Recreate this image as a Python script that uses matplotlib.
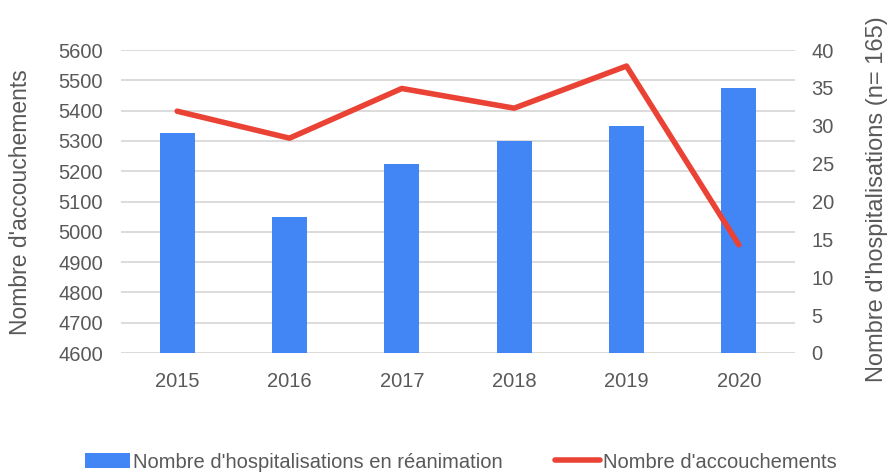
import matplotlib.pyplot as plt
import numpy as np

# data
years = ['2015', '2016', '2017', '2018', '2019', '2020']
hospitalisations = [29, 18, 25, 28, 30, 35]          # right axis (n = 165)
accouchements = [5398, 5309, 5473, 5408, 5547, 4957]  # left axis

BLUE = '#4285F4'
RED = '#EA4335'
TXT = '#595959'
GRID = '#d9d9d9'

plt.rcParams['font.family'] = ['Liberation Sans', 'DejaVu Sans']

fig = plt.figure(figsize=(8.9, 4.74), dpi=100)
ax = fig.add_axes([121/890, 1-353/474, (795-121)/890, (353-50)/474])
x = np.arange(len(years))

# left axis: grid + ticks
ax.set_ylim(4600, 5600)
ax.set_yticks(np.arange(4600, 5601, 100))
ax.set_xlim(-0.5, len(years)-0.5)
ax.grid(axis='y', color=GRID, linewidth=1.3)
ax.set_axisbelow(True)
ax.set_xticks(x)
ax.set_xticklabels(years)
ax.tick_params(axis='both', length=0, colors=TXT, labelsize=14.5)
ax.tick_params(axis='x', pad=14)
ax.tick_params(axis='y', pad=13)
for s in ax.spines.values():
    s.set_visible(False)

# right axis: bars
ax2 = ax.twinx()
ax2.set_ylim(0, 40)
ax2.set_yticks(np.arange(0, 41, 5))
bars = ax2.bar(x, hospitalisations, width=0.31, color=BLUE,
               label="Nombre d'hospitalisations en réanimation")
ax2.tick_params(axis='y', length=0, colors=TXT, labelsize=14.5, pad=12)
for s in ax2.spines.values():
    s.set_visible(False)

# line on top, same scale as left axis
ax3 = ax.twinx()
ax3.set_ylim(4600, 5600)
ax3.set_yticks([])
line, = ax3.plot(x, accouchements, color=RED, linewidth=4,
                 solid_capstyle='round', label="Nombre d'accouchements")
for s in ax3.spines.values():
    s.set_visible(False)

# axis titles
fig.text(21/890, 1-202/474, "Nombre d'accouchements", rotation=90,
         ha='center', va='center', color=TXT, fontsize=16.5)
fig.text(877/890, 1-199/474, "Nombre d'hospitalisations (n= 165)", rotation=90,
         ha='center', va='center', color=TXT, fontsize=17)

fig.legend([bars, line], [bars.get_label(), line.get_label()],
           loc='center', bbox_to_anchor=(0.518, 1-462/474), ncol=2, frameon=False,
           fontsize=14.5, labelcolor=TXT, handlelength=2.25, handletextpad=0.15,
           columnspacing=2.6)

fig.savefig('out.png', dpi=100)
